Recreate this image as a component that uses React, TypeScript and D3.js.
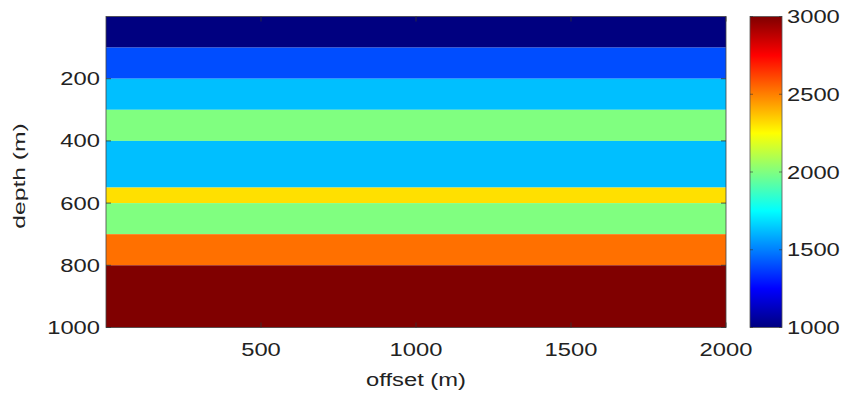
import React from "react";
import * as d3 from "d3";

const layerTops = [0, 100, 200, 300, 400, 550, 600, 700, 800];
const layerBottoms = [100, 200, 300, 400, 550, 600, 700, 800, 1000];
const layerVelocities = [1000, 1400, 1625, 2000, 1625, 2310, 2000, 2530, 3000];
const xTicks = [500, 1000, 1500, 2000];
const yTicks = [200, 400, 600, 800, 1000];
const cbTicks = [1000, 1500, 2000, 2500, 3000];
const xDomain = [0, 2000];
const yDomain = [0, 1000];
const cDomain = [1000, 3000];

const W = 845;
const H = 394;
const plot = { left: 106, right: 726, top: 16.5, bottom: 327.5 };
const cb = { left: 750, right: 782 };

function jet(t: number): string {
  const c = (v: number) => Math.max(0, Math.min(1, v));
  const r = c(1.5 - Math.abs(4 * t - 3));
  const g = c(1.5 - Math.abs(4 * t - 2));
  const b = c(1.5 - Math.abs(4 * t - 1));
  return d3.rgb(r * 255, g * 255, b * 255).formatHex();
}

const FONT = "'Liberation Sans', Arial, Helvetica, sans-serif";
const SX = 1.32;

function Label({ x, y, anchor, children, size = 18, sx = SX }: any) {
  return (
    <text
      transform={`translate(${x},${y}) scale(${sx},1)`}
      textAnchor={anchor}
      fontFamily={FONT}
      fontSize={size}
      fill="#222"
    >
      {children}
    </text>
  );
}

export default function App() {
  const x = d3.scaleLinear().domain(xDomain).range([plot.left, plot.right]);
  const y = d3.scaleLinear().domain(yDomain).range([plot.top, plot.bottom]);
  const cNorm = d3.scaleLinear().domain(cDomain).range([0, 1]);
  const cy = d3.scaleLinear().domain(cDomain).range([plot.bottom, plot.top]);
  const stops = d3.range(0, 1.0001, 1 / 64);
  const tickLen = 5;

  return (
    <svg
      width={W}
      height={H}
      style={{ position: "absolute", left: 0, top: 0, background: "#fff" }}
    >
      <defs>
        <linearGradient id="jetgrad" x1="0" y1="1" x2="0" y2="0">
          {stops.map((s, i) => (
            <stop key={i} offset={s} stopColor={jet(s)} />
          ))}
        </linearGradient>
      </defs>
      <rect width={W} height={H} fill="#fff" />
      {layerTops.map((t, i) => (
        <rect
          key={i}
          x={x(xDomain[0])}
          y={y(t)}
          width={x(xDomain[1]) - x(xDomain[0])}
          height={y(layerBottoms[i]) - y(t)}
          fill={jet(cNorm(layerVelocities[i]))}
        />
      ))}
      <rect
        x={plot.left}
        y={plot.top}
        width={plot.right - plot.left}
        height={plot.bottom - plot.top}
        fill="none"
        stroke="#444"
        strokeWidth={0.8}
      />
      {xTicks.map((v) => (
        <g key={"xt" + v}>
          <line x1={x(v)} x2={x(v)} y1={plot.bottom} y2={plot.bottom - tickLen} stroke="#333" strokeWidth={0.8} />
          <line x1={x(v)} x2={x(v)} y1={plot.top} y2={plot.top + tickLen} stroke="#333" strokeWidth={0.8} />
          <Label x={x(v)} y={356} anchor="middle">{String(v)}</Label>
        </g>
      ))}
      {yTicks.map((v) => (
        <g key={"yt" + v}>
          <line x1={plot.left} x2={plot.left + tickLen} y1={y(v)} y2={y(v)} stroke="#333" strokeWidth={0.8} />
          <line x1={plot.right} x2={plot.right - tickLen} y1={y(v)} y2={y(v)} stroke="#333" strokeWidth={0.8} />
          <Label x={100} y={y(v) + 6.5} anchor="end">{String(v)}</Label>
        </g>
      ))}
      <Label x={416} y={386} anchor="middle">offset (m)</Label>
      <text
        transform={`translate(25,176) rotate(-90) scale(1.45,1)`}
        textAnchor="middle"
        fontFamily={FONT}
        fontSize={17}
        fill="#222"
      >
        depth (m)
      </text>
      <rect
        x={cb.left}
        y={plot.top}
        width={cb.right - cb.left}
        height={plot.bottom - plot.top}
        fill="url(#jetgrad)"
        stroke="#555"
        strokeWidth={0.8}
      />
      {cbTicks.map((v) => (
        <g key={"ct" + v}>
          <line x1={cb.left} x2={cb.left + 3} y1={cy(v)} y2={cy(v)} stroke="#333" strokeWidth={0.6} />
          <line x1={cb.right} x2={cb.right - 3} y1={cy(v)} y2={cy(v)} stroke="#333" strokeWidth={0.6} />
          <Label x={787} y={cy(v) + 6.5} anchor="start">{String(v)}</Label>
        </g>
      ))}
    </svg>
  );
}
